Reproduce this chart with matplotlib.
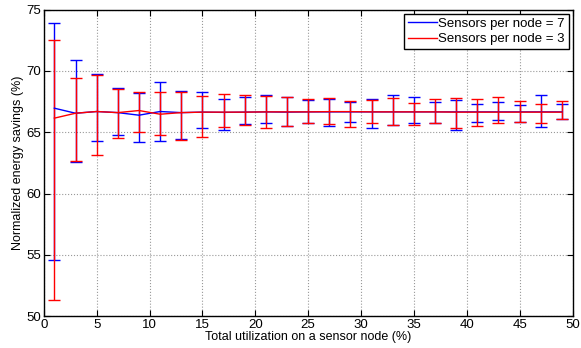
import matplotlib
matplotlib.use("Agg")
import matplotlib.pyplot as plt
from matplotlib.lines import Line2D

plt.rcParams['font.family'] = ['Liberation Sans', 'DejaVu Sans']

x = [1, 3, 5, 7, 9, 11, 13, 15, 17, 19, 21, 23, 25, 27, 29, 31, 33, 35, 37, 39, 41, 43, 45, 47, 49]

mean7 = [66.96, 66.55, 66.69, 66.6, 66.39, 66.69, 66.6, 66.64, 66.62, 66.64, 66.66, 66.64, 66.66,
         66.66, 66.66, 66.66, 66.66, 66.66, 66.66, 66.66, 66.66, 66.66, 66.66, 66.66, 66.66]
upper7 = [73.94, 70.9, 69.78, 68.62, 68.19, 69.13, 68.37, 68.29, 67.67, 67.86, 68.07, 67.86, 67.64,
          67.72, 67.48, 67.7, 68.0, 67.86, 67.48, 67.64, 67.34, 67.48, 67.26, 68.0, 67.34]
lower7 = [54.6, 62.56, 64.3, 64.81, 64.19, 64.27, 64.44, 65.33, 65.17, 65.7, 65.74, 65.49, 65.74,
          65.52, 65.85, 65.38, 65.55, 65.79, 65.77, 65.22, 65.85, 66.01, 65.85, 65.44, 66.07]

mean3 = [66.15, 66.55, 66.69, 66.6, 66.77, 66.47, 66.6, 66.64, 66.64, 66.64, 66.66, 66.66, 66.66,
         66.68, 66.68, 66.66, 66.66, 66.66, 66.66, 66.64, 66.64, 66.64, 66.64, 66.64, 66.64]
upper3 = [72.56, 69.46, 69.68, 68.5, 68.32, 68.32, 68.29, 67.97, 68.13, 68.07, 67.97, 67.86, 67.7,
          67.78, 67.58, 67.62, 67.78, 67.42, 67.67, 67.83, 67.75, 67.91, 67.53, 67.31, 67.58]
lower3 = [51.3, 62.67, 63.13, 64.54, 65.0, 64.79, 64.38, 64.65, 65.44, 65.63, 65.36, 65.49, 65.72,
          65.66, 65.46, 65.74, 65.55, 65.63, 65.77, 65.36, 65.49, 65.79, 65.85, 65.74, 66.07]

labels = ['Sensors per node = 7', 'Sensors per node = 3']

fig = plt.figure(figsize=(5.81, 3.48), dpi=100)
ax = fig.add_axes([0.0754, 0.0914, 0.910, 0.881])

def draw(mean, lo, hi, color, label):
    yerr = [[m - l for m, l in zip(mean, lo)], [h - m for m, h in zip(mean, hi)]]
    ax.errorbar(x, mean, yerr=yerr, color=color, lw=1.0, elinewidth=1.0,
                capsize=4, capthick=1.0, label=label)

draw(mean7, lower7, upper7, (0, 0, 1), labels[0])
draw(mean3, lower3, upper3, (1, 0, 0), labels[1])

ax.set_xlim(0, 50)
ax.set_ylim(50, 75)
ax.set_xticks(range(0, 51, 5))
ax.set_yticks(range(50, 76, 5))
ax.grid(True, linestyle=':', color='#999999', linewidth=0.8)
ax.tick_params(direction='in', top=True, right=True, labelsize=9.5, length=4, pad=2)
for s in ax.spines.values():
    s.set_linewidth(1.0)
ax.set_xlabel('Total utilization on a sensor node (%)', fontsize=9, labelpad=0)
ax.set_ylabel('Normalized energy savings (%)', fontsize=9, labelpad=2)

h = [Line2D([], [], color=(0, 0, 1), lw=1.0), Line2D([], [], color=(1, 0, 0), lw=1.0)]
leg = ax.legend(h, labels, loc='upper right', fontsize=9.5, frameon=True, fancybox=False,
                edgecolor='black', framealpha=1, borderpad=0.3, labelspacing=0.25,
                handlelength=2.2, handletextpad=0.1, borderaxespad=0.3)
leg.get_frame().set_linewidth(1.0)

fig.savefig('out.png', dpi=100)
